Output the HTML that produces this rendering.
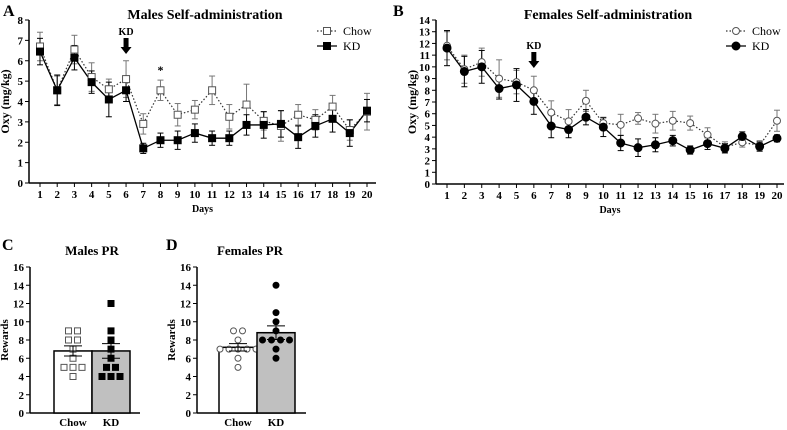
<!DOCTYPE html>
<html><head><meta charset="utf-8"><style>
body{margin:0;background:#fff}svg{display:block;font-family:"Liberation Serif",serif}
</style></head><body>
<svg id="s" width="787" height="430" viewBox="0 0 787 430" xmlns="http://www.w3.org/2000/svg"></svg>
<script>
const days=[1,2,3,4,5,6,7,8,9,10,11,12,13,14,15,16,17,18,19,20];
const mChow=[6.7,4.55,6.55,5.2,4.6,5.1,2.9,4.55,3.35,3.6,4.55,3.25,3.85,3.05,2.8,3.35,3.1,3.75,2.6,3.5];
const mChowErr=[.7,.7,.7,.7,.5,.9,.5,.5,.55,.45,.7,.6,1.0,.45,.75,.5,.5,.55,.5,.9];
const mKD=[6.45,4.55,6.15,4.95,4.1,4.55,1.7,2.1,2.1,2.45,2.2,2.2,2.85,2.85,2.9,2.25,2.8,3.15,2.45,3.55];
const mKDErr=[.65,.75,.6,.55,.85,.55,.25,.35,.45,.45,.35,.35,.5,.65,.65,.55,.55,.65,.65,.55];
const fChow=[11.8,9.8,10.4,9.0,8.7,8.0,6.1,5.35,7.1,5.2,5.05,5.6,5.15,5.4,5.2,4.2,3.15,3.55,3.3,5.4];
const fChowErr=[1.2,1.2,1.2,1.6,1.0,1.2,1.0,1.0,.9,.5,.9,.5,.8,.8,.6,.6,.45,.4,.4,.9];
const fKD=[11.6,9.6,10.0,8.15,8.45,7.05,4.95,4.65,5.7,4.85,3.5,3.1,3.35,3.7,2.9,3.45,3.05,4.05,3.2,3.9];
const fKDErr=[1.5,1.3,1.4,.9,1.4,1.1,1.0,.7,.65,.8,.65,.75,.6,.45,.35,.5,.4,.4,.4,.3];
const prGroups=["Chow","KD"];
const mPRMeans=[6.8,6.8];
const mPRSem=[0.55,0.8];
const mPRChowPts=[9,9,8,8,7,6,5,5,5,4];
const mPRKDPts=[12,9,8,7,6,5,5,4,4,4];
const fPRMeans=[7.2,8.8];
const fPRSem=[0.4,0.75];
const fPRChowPts=[9,9,8,7,7,7,7,7,6,5];
const fPRKDPts=[14,11,10,9,8,8,8,8,7,6];

const S=document.getElementById('s');const NS='http://www.w3.org/2000/svg';
function el(t,a,txt){const e=document.createElementNS(NS,t);for(const k in a)e.setAttribute(k,a[k]);if(txt!=null)e.textContent=txt;S.appendChild(e);return e;}
function T(x,y,s,sz,anchor,name,rot){const a={x:x,y:y,'font-size':sz,'font-weight':'bold','text-anchor':anchor||'middle'};if(rot)a.transform=`rotate(-90 ${x} ${y})`;const e=el('text',a,s);

return e;}
function L(x1,y1,x2,y2,st,w,name,dash){const e=el('line',{x1,y1,x2,y2,stroke:st,'stroke-width':w||1});if(dash)e.setAttribute('stroke-dasharray',dash);

return e;}

function lineChart(o){
 const X=d=>o.x1+(d-1)*(o.x20-o.x1)/19, Y=v=>o.y0-v*(o.y0-o.yTop)/o.ymax;
 L(o.ax,o.y0,o.ax,o.yTop,'#000',1.5,'y-axis-'+o.id);
 L(o.ax,o.y0,o.xEnd,o.y0,'#000',1.5,'x-axis-'+o.id);
 for(let v=0;v<=o.ymax;v++){L(o.ax-4,Y(v),o.ax,Y(v),'#000',1,'y-tick');T(o.ax-6,Y(v)+4,String(v),11,'end','y-tick-label');}
 days.forEach(d=>{L(X(d),o.y0,X(d),o.y0+4,'#000',1,'x-tick');T(X(d),o.y0+15,String(d),11,'middle','x-tick-label');});
 T((o.ax+o.xEnd)/2,o.y0+29,'Days',10,'middle','x-axis-title');
 T(o.ax-20,(o.y0+o.yTop)/2,'Oxy (mg/kg)',12,'middle','y-axis-title',true);
 T(o.titleX,19,o.title,14,'middle','chart-title');
 T(o.letterX,16,o.letter,16,'start','panel-letter');
 [[o.chow,o.chowErr,'#777','chow'],[o.kd,o.kdErr,'#000','kd']].forEach(([v,e,c,n])=>{
  v.forEach((m,i)=>{const x=X(days[i]);L(x,Y(m-e[i]),x,Y(m+e[i]),c,1,'error-bar-'+n);L(x-3,Y(m-e[i]),x+3,Y(m-e[i]),c,1,'error-cap-'+n);L(x-3,Y(m+e[i]),x+3,Y(m+e[i]),c,1,'error-cap-'+n);});});
 const pc=el('polyline',{points:o.chow.map((m,i)=>X(days[i])+','+Y(m)).join(' '),fill:'none',stroke:'#333','stroke-width':1.2,'stroke-dasharray':'1.5,2'});
 
 
 const pk=el('polyline',{points:o.kd.map((m,i)=>X(days[i])+','+Y(m)).join(' '),fill:'none',stroke:'#000','stroke-width':1.3});
 
 
 function mk(x,y,kind,n){let e;if(o.shape==='sq'){e=el('rect',{x:x-3.5,y:y-3.5,width:7,height:7,fill:kind?'#000':'#fff',stroke:kind?'#000':'#555','stroke-width':1});}else{e=el('circle',{cx:x,cy:y,r:kind?4:3.5,fill:kind?'#000':'#fff',stroke:kind?'#000':'#555','stroke-width':1});}
  
  }
 o.chow.forEach((m,i)=>mk(X(days[i]),Y(m),0,'chow-point'));
 o.kd.forEach((m,i)=>mk(X(days[i]),Y(m),1,'kd-point'));
 // arrow KD
 const ax=X(6);T(ax,o.arrowY,'KD',10,'middle','kd-arrow-label');
 const ar=el('path',{d:`M${ax-2.5},${o.arrowY+3} h5 v9 h3 l-5.5,7 l-5.5,-7 h3 z`,fill:'#000'});
 
 
 // legend
 L(o.legX,31,o.legX+20,31,'#333',1.2,'legend-chow-line','1.5,2');mk(o.legX+10,31,0,'legend-chow-marker');T(o.legX+26,35,'Chow',12,'start','legend-chow-label').setAttribute('font-weight','normal');
 L(o.legX,46,o.legX+20,46,'#000',1.3,'legend-kd-line');mk(o.legX+10,46,1,'legend-kd-marker');T(o.legX+26,50,'KD',12,'start','legend-kd-label').setAttribute('font-weight','normal');
 if(o.star)T(X(8),74,'*',12,'middle','significance-star');
}
lineChart({id:'a',ax:29,y0:183,yTop:20,ymax:8,x1:40,x20:367,xEnd:376,chow:mChow,chowErr:mChowErr,kd:mKD,kdErr:mKDErr,shape:'sq',title:'Males Self-administration',titleX:205,letter:'A',letterX:3,arrowY:35,legX:317,star:true});
lineChart({id:'b',ax:436,y0:184,yTop:20,ymax:14,x1:447,x20:777,xEnd:784,chow:fChow,chowErr:fChowErr,kd:fKD,kdErr:fKDErr,shape:'ci',title:'Females Self-administration',titleX:608,letter:'B',letterX:393,arrowY:49,legX:726});

function bar(o){
 const Y=v=>o.y0-v*(o.y0-o.yTop)/16;
 L(o.ax,o.y0,o.ax,o.yTop,'#000',1.5,'y-axis-'+o.id);L(o.ax,o.y0,o.xEnd,o.y0,'#000',1.5,'x-axis-'+o.id);
 for(let v=0;v<=16;v+=2){L(o.ax-4,Y(v),o.ax,Y(v),'#000',1,'y-tick');T(o.ax-6,Y(v)+4,String(v),11,'end','y-tick-label');}
 T(o.ax-22,(o.y0+o.yTop)/2,'Rewards',11,'middle','y-axis-title',true);
 T(o.titleX,255,o.title,13,'middle','chart-title');T(o.letterX,250,o.letter,16,'start','panel-letter');
 const bw=38;
 prGroups.forEach((g,i)=>{const x=o.bx+i*bw;const r=el('rect',{x:x,y:Y(o.means[i]),width:bw,height:o.y0-Y(o.means[i]),fill:i?'#c0c0c0':'#fff',stroke:'#000','stroke-width':1.5});
  
  
  T(x+bw/2,o.y0+13,g,11,'middle','x-tick-label');
  const pts=i?o.kdPts:o.chowPts;const cnt={};
  pts.forEach(v=>{cnt[v]=(cnt[v]||0)+1;});const seen={};
  pts.forEach(v=>{const n=cnt[v];seen[v]=(seen[v]||0);const px=x+bw/2+(seen[v]-(n-1)/2)*9;seen[v]++;
   let e;if(o.shape==='sq')e=el('rect',{x:px-3,y:Y(v)-3,width:6,height:6,fill:i?'#000':'#fff',stroke:i?'#000':'#555'});else e=el('circle',{cx:px,cy:Y(v),r:3,fill:i?'#000':'#fff',stroke:i?'#000':'#555'});
   
   });
  const m=o.means[i],s=o.sem[i],cx=x+bw/2;
  L(cx,Y(m-s),cx,Y(m+s),'#000',1,'sem-bar');L(cx-9,Y(m+s),cx+9,Y(m+s),'#000',1,'sem-cap');L(cx-9,Y(m-s),cx+9,Y(m-s),'#000',1,'sem-cap');L(cx-13,Y(m),cx+13,Y(m),'#000',1,'mean-line');
 });
}
bar({id:'c',ax:30,y0:413,yTop:267,xEnd:140,bx:54,means:mPRMeans,sem:mPRSem,chowPts:mPRChowPts,kdPts:mPRKDPts,shape:'sq',title:'Males PR',titleX:92,letter:'C',letterX:2});
bar({id:'d',ax:197,y0:413,yTop:267,xEnd:306,bx:219,means:fPRMeans,sem:fPRSem,chowPts:fPRChowPts,kdPts:fPRKDPts,shape:'ci',title:'Females PR',titleX:250,letter:'D',letterX:166});
</script>
</body></html>
